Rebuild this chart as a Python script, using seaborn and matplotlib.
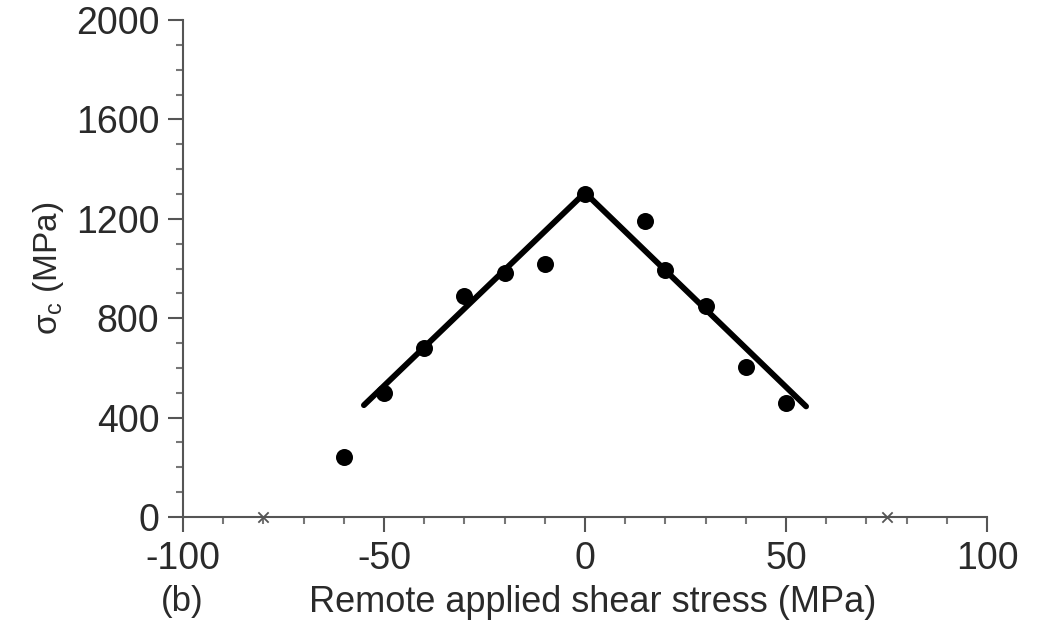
import matplotlib
matplotlib.use("Agg")
import matplotlib.pyplot as plt
import seaborn as sns
import pandas as pd
from matplotlib.ticker import MultipleLocator

# Data
shear_x = [-60, -50, -40, -30, -20, -10, 0, 15, 20, 30, 40, 50]
sigma_c = [240, 500, 680, 890, 980, 1020, 1300, 1190, 995, 850, 605, 460]

fit_x = [-55, 0, 55]
fit_y = [450, 1305, 445]

mark_x = [-80, 75]
mark_y = [0, 0]

x_ticks = [-100, -50, 0, 50, 100]
y_ticks = [0, 400, 800, 1200, 1600, 2000]

sns.set_style("ticks")
plt.rcParams['font.family'] = ['Liberation Sans', 'DejaVu Sans']
plt.rcParams['mathtext.fontset'] = 'custom'
plt.rcParams['mathtext.rm'] = 'Liberation Sans'
txt = '#2a2a2a'

fig = plt.figure(figsize=(10.4, 6.21), dpi=100)
ax = fig.add_axes([183/1040, 104/621, (987-183)/1040, (517-20)/621])

pts = pd.DataFrame({'x': shear_x, 'y': sigma_c})
fit = pd.DataFrame({'x': fit_x, 'y': fit_y})
mk = pd.DataFrame({'x': mark_x, 'y': mark_y})

sns.lineplot(data=fit, x='x', y='y', ax=ax, color='black', lw=4.2, sort=False)
sns.scatterplot(data=pts, x='x', y='y', ax=ax, color='black', s=150, edgecolor='black', linewidth=0, zorder=3)
sns.scatterplot(data=mk, x='x', y='y', ax=ax, color='#555555', marker='x', s=55, linewidth=1.3, zorder=3, clip_on=False)

ax.set_xlim(-100, 100)
ax.set_ylim(0, 2000)
ax.set_xticks(x_ticks)
ax.set_yticks(y_ticks)
ax.xaxis.set_minor_locator(MultipleLocator(10))
ax.yaxis.set_minor_locator(MultipleLocator(100))
ax.set_xticklabels([str(v) for v in x_ticks], fontsize=27, color=txt)
ax.set_yticklabels([str(v) for v in y_ticks], fontsize=27, color=txt)

for s in ['top', 'right']:
    ax.spines[s].set_visible(False)
for s in ['left', 'bottom']:
    ax.spines[s].set_color('#555555')
    ax.spines[s].set_linewidth(1.5)

ax.tick_params(axis='both', which='major', length=11, width=1.5, color='#555555', pad=6)
ax.tick_params(axis='both', which='minor', length=5, width=1.5, color='#777777')

ax.set_xlabel('Remote applied shear stress (MPa)', fontsize=26, color=txt)
ax.set_ylabel(r'$\mathregular{\sigma_c}$ (MPa)', fontsize=24, color=txt)
ax.xaxis.set_label_coords(0.51, -0.137)
ax.yaxis.set_label_coords(-0.145, 0.5)
fig.text(182/1040, 1 - 601/621, '(b)', fontsize=25, color=txt, ha='center', va='center')

fig.savefig('out.png', dpi=100)
